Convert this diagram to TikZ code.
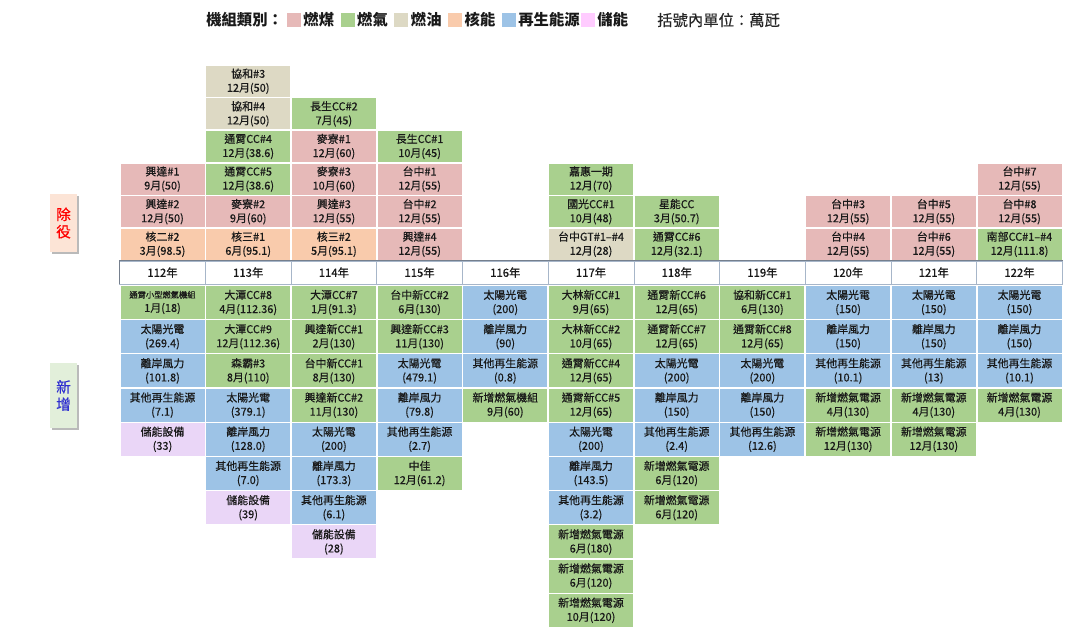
\documentclass[tikz,border=0pt]{standalone}
\usepackage{fontspec}
\setmainfont{Noto Sans CJK TC}
\newfontfamily\cellfont[FakeBold=0.5]{Noto Sans CJK TC}
\usetikzlibrary{positioning,shadows}
\usepackage{xcolor}

\definecolor{coal}{HTML}{E6B9B8}
\definecolor{gas}{HTML}{A9D08E}
\definecolor{oil}{HTML}{DDD9C4}
\definecolor{nuke}{HTML}{F9CBAC}
\definecolor{ren}{HTML}{9DC3E6}
\definecolor{stor}{HTML}{EAD6F7}
\definecolor{storkey}{HTML}{FFCCFF}
\definecolor{hdrline}{HTML}{A7B6C9}
\definecolor{retirebg}{HTML}{FCE4D6}
\definecolor{addbg}{HTML}{E2EFDA}
\definecolor{addtxt}{HTML}{3030D0}

\tikzset{
  cell/.style={minimum width=63pt, inner sep=0pt, align=center,
    font=\cellfont\fontsize{8.2}{10.5}\selectfont, text=black!90},
  upcell/.style={cell, minimum height=23.25pt},
  lowcell/.style={cell, minimum height=24.75pt},
  yearcell/.style={draw=hdrline, fill=white, minimum width=64.3pt, minimum height=17.25pt,
    inner sep=0pt, font=\cellfont\fontsize{8.5}{10}\selectfont, text=black!90},
  swatch/.style={minimum size=10.5pt, inner sep=0pt},
  legtext/.style={inner sep=0pt, font=\fontsize{11.5}{12}\selectfont\bfseries, text=black!90},
  sidetag/.style={minimum width=20pt, inner sep=0pt, align=center,
    font=\cellfont\fontsize{11}{13}\selectfont,
    drop shadow={shadow xshift=1.5pt, shadow yshift=-1.5pt, fill=black!45, opacity=0.6}}
}

\begin{document}
\begin{tikzpicture}[x=0.75pt, y=-0.75pt]
  \useasboundingbox (0,0) rectangle (1076,632);

  % legend
  \node[legtext, anchor=west] (legtitle) at (206,20) {機組類別：};
  \node[swatch, fill=coal, right=2.6pt of legtitle] (sw1) {};
  \node[legtext, right=1.5pt of sw1] (lt1) {燃煤};
  \node[swatch, fill=gas, right=4.5pt of lt1] (sw2) {};
  \node[legtext, right=1.5pt of sw2] (lt2) {燃氣};
  \node[swatch, fill=oil, right=4.5pt of lt2] (sw3) {};
  \node[legtext, right=1.5pt of sw3] (lt3) {燃油};
  \node[swatch, fill=nuke, right=4.5pt of lt3] (sw4) {};
  \node[legtext, right=1.5pt of sw4] (lt4) {核能};
  \node[swatch, fill=ren, right=4.5pt of lt4] (sw5) {};
  \node[legtext, right=1.5pt of sw5] (lt5) {再生能源};
  \node[swatch, fill=storkey, right=0.5pt of lt5] (sw6) {};
  \node[legtext, right=1.5pt of sw6] (lt6) {儲能};
  \node[inner sep=0pt, anchor=west, font=\cellfont\fontsize{11.5}{12}\selectfont, text=black!85] (unit) at (657,20) {括號內單位：萬瓩};

  % side tags
  \node[sidetag, fill=retirebg, text=red, minimum height=43.5pt] (retire) at (63.5,223) {除\\役};
  \node[sidetag, fill=addbg, text=addtxt, minimum height=48.75pt] (add) at (63.5,395.5) {新\\增};

  % year row
  \foreach \yr [count=\c from 0] in {112,...,122}
    \node[yearcell] (y\yr) at ({162.5+85.7*\c},272.5) {{\yr}年};
  \draw[line width=1pt, color=hdrline!70!black] (y112.north west) -- (y122.north east);
  \draw[line width=1pt, color=hdrline!70!black] (y112.north west) -- (y112.south west);

  % retirements (row 1 next to the year row)
  \foreach \c/\r/\k/\t in {
    0/1/nuke/{核二\#2\\3月(98.5)},
    0/2/coal/{興達\#2\\12月(50)},
    0/3/coal/{興達\#1\\9月(50)},
    1/1/nuke/{核三\#1\\6月(95.1)},
    1/2/coal/{麥寮\#2\\9月(60)},
    1/3/gas/{通霄CC\#5\\12月(38.6)},
    1/4/gas/{通霄CC\#4\\12月(38.6)},
    1/5/oil/{協和\#4\\12月(50)},
    1/6/oil/{協和\#3\\12月(50)},
    2/1/nuke/{核三\#2\\5月(95.1)},
    2/2/coal/{興達\#3\\12月(55)},
    2/3/coal/{麥寮\#3\\10月(60)},
    2/4/coal/{麥寮\#1\\12月(60)},
    2/5/gas/{長生CC\#2\\7月(45)},
    3/1/coal/{興達\#4\\12月(55)},
    3/2/coal/{台中\#2\\12月(55)},
    3/3/coal/{台中\#1\\12月(55)},
    3/4/gas/{長生CC\#1\\10月(45)},
    5/1/oil/{台中GT\#1–\#4\\12月(28)},
    5/2/gas/{國光CC\#1\\10月(48)},
    5/3/gas/{嘉惠一期\\12月(70)},
    6/1/gas/{通霄CC\#6\\12月(32.1)},
    6/2/gas/{星能CC\\3月(50.7)},
    8/1/coal/{台中\#4\\12月(55)},
    8/2/coal/{台中\#3\\12月(55)},
    9/1/coal/{台中\#6\\12月(55)},
    9/2/coal/{台中\#5\\12月(55)},
    10/1/gas/{南部CC\#1–\#4\\12月(111.8)},
    10/2/coal/{台中\#8\\12月(55)},
    10/3/coal/{台中\#7\\12月(55)}}
    \node[upcell, fill=\k] (d\c-\r) at ({162.5+85.7*\c},{244.25-32.6*(\r-1)}) {\t};

  % additions
  \foreach \c/\r/\k/\t in {
    0/1/gas/{{\fontsize{6.2}{8}\selectfont 通霄小型燃氣機組}\\1月(18)},
    0/2/ren/{太陽光電\\(269.4)},
    0/3/ren/{離岸風力\\(101.8)},
    0/4/ren/{其他再生能源\\(7.1)},
    0/5/stor/{儲能設備\\(33)},
    1/1/gas/{大潭CC\#8\\4月(112.36)},
    1/2/gas/{大潭CC\#9\\12月(112.36)},
    1/3/gas/{森霸\#3\\8月(110)},
    1/4/ren/{太陽光電\\(379.1)},
    1/5/ren/{離岸風力\\(128.0)},
    1/6/ren/{其他再生能源\\(7.0)},
    1/7/stor/{儲能設備\\(39)},
    2/1/gas/{大潭CC\#7\\1月(91.3)},
    2/2/gas/{興達新CC\#1\\2月(130)},
    2/3/gas/{台中新CC\#1\\8月(130)},
    2/4/gas/{興達新CC\#2\\11月(130)},
    2/5/ren/{太陽光電\\(200)},
    2/6/ren/{離岸風力\\(173.3)},
    2/7/ren/{其他再生能源\\(6.1)},
    2/8/stor/{儲能設備\\(28)},
    3/1/gas/{台中新CC\#2\\6月(130)},
    3/2/gas/{興達新CC\#3\\11月(130)},
    3/3/ren/{太陽光電\\(479.1)},
    3/4/ren/{離岸風力\\(79.8)},
    3/5/ren/{其他再生能源\\(2.7)},
    3/6/gas/{中佳\\12月(61.2)},
    4/1/ren/{太陽光電\\(200)},
    4/2/ren/{離岸風力\\(90)},
    4/3/ren/{其他再生能源\\(0.8)},
    4/4/gas/{新增燃氣機組\\9月(60)},
    5/1/gas/{大林新CC\#1\\9月(65)},
    5/2/gas/{大林新CC\#2\\10月(65)},
    5/3/gas/{通霄新CC\#4\\12月(65)},
    5/4/gas/{通霄新CC\#5\\12月(65)},
    5/5/ren/{太陽光電\\(200)},
    5/6/ren/{離岸風力\\(143.5)},
    5/7/ren/{其他再生能源\\(3.2)},
    5/8/gas/{新增燃氣電源\\6月(180)},
    5/9/gas/{新增燃氣電源\\6月(120)},
    5/10/gas/{新增燃氣電源\\10月(120)},
    6/1/gas/{通霄新CC\#6\\12月(65)},
    6/2/gas/{通霄新CC\#7\\12月(65)},
    6/3/ren/{太陽光電\\(200)},
    6/4/ren/{離岸風力\\(150)},
    6/5/ren/{其他再生能源\\(2.4)},
    6/6/gas/{新增燃氣電源\\6月(120)},
    6/7/gas/{新增燃氣電源\\6月(120)},
    7/1/gas/{協和新CC\#1\\6月(130)},
    7/2/gas/{通霄新CC\#8\\12月(65)},
    7/3/ren/{太陽光電\\(200)},
    7/4/ren/{離岸風力\\(150)},
    7/5/ren/{其他再生能源\\(12.6)},
    8/1/ren/{太陽光電\\(150)},
    8/2/ren/{離岸風力\\(150)},
    8/3/ren/{其他再生能源\\(10.1)},
    8/4/gas/{新增燃氣電源\\4月(130)},
    8/5/gas/{新增燃氣電源\\12月(130)},
    9/1/ren/{太陽光電\\(150)},
    9/2/ren/{離岸風力\\(150)},
    9/3/ren/{其他再生能源\\(13)},
    9/4/gas/{新增燃氣電源\\4月(130)},
    9/5/gas/{新增燃氣電源\\12月(130)},
    10/1/ren/{太陽光電\\(150)},
    10/2/ren/{離岸風力\\(150)},
    10/3/ren/{其他再生能源\\(10.1)},
    10/4/gas/{新增燃氣電源\\4月(130)}}
    \node[lowcell, fill=\k] (n\c-\r) at ({162.5+85.7*\c},{302.5+34.2*(\r-1)}) {\t};
\end{tikzpicture}
\end{document}
